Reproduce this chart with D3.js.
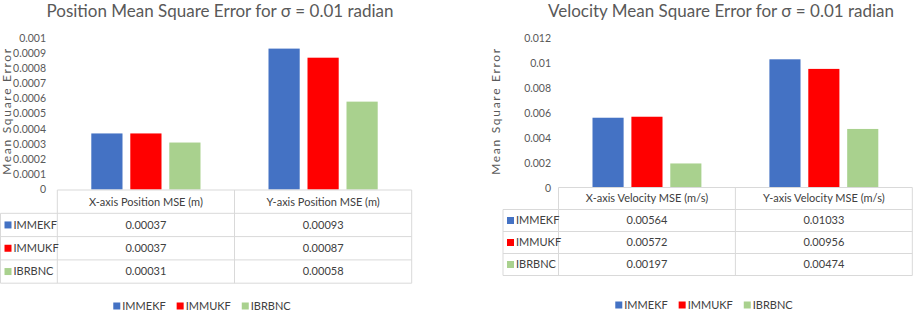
<html>
<head>
    <script src="https://d3js.org/d3.v7.min.js" charset="utf-8"></script>
    <style>
        body { margin: 0; background: #fff; }
        text { font-family: Lato, "Open Sans", sans-serif; }
    </style>
</head>
<body>
    <script type="text/javascript">
        var width = 913;
        var height = 314;

        // series shared by both charts
        const series = ["IMMEKF", "IMMUKF", "IBRBNC"];
        const seriesColors = ["#4472C4", "#FF0000", "#A9D18E"];

        // position chart
        const posCategories = ["X-axis Position MSE (m)", "Y-axis Position MSE (m)"];
        const posIMMEKF = [0.00037, 0.00093];
        const posIMMUKF = [0.00037, 0.00087];
        const posIBRBNC = [0.00031, 0.00058];
        const posTicks = [0, 0.0001, 0.0002, 0.0003, 0.0004, 0.0005, 0.0006, 0.0007, 0.0008, 0.0009, 0.001];

        // velocity chart
        const velCategories = ["X-axis Velocity MSE (m/s)", "Y-axis Velocity MSE (m/s)"];
        const velIMMEKF = [0.00564, 0.01033];
        const velIMMUKF = [0.00572, 0.00956];
        const velIBRBNC = [0.00197, 0.00474];
        const velTicks = [0, 0.002, 0.004, 0.006, 0.008, 0.01, 0.012];

        const svg = d3.select("body").append("svg")
            .attr("width", width)
            .attr("height", height);

        const gridColor = "#d9d9d9";
        const textColor = "#595959";
        const tableText = "#404040";

        function drawChart(o) {
            const g = svg.append("g");
            const values = [o.a, o.b, o.c];

            const x0 = d3.scaleBand()
                .domain(o.categories)
                .range([o.plotLeft, o.plotRight]);

            const x1 = d3.scaleBand()
                .domain(series)
                .range([34, x0.bandwidth() - 34])
                .paddingInner(0.2);

            const y = d3.scaleLinear()
                .domain([0, o.max])
                .range([o.baseY, o.topY]);

            // title
            g.append("text")
                .attr("x", o.titleX)
                .attr("y", 17)
                .attr("text-anchor", "middle")
                .style("font-size", "17px")
                .style("fill", textColor)
                .text(o.title);

            // y tick labels (no axis line in the original)
            g.append("g")
                .selectAll("text")
                .data(o.ticks)
                .join("text")
                    .attr("x", o.tickX)
                    .attr("y", d => y(d))
                    .attr("dy", "0.35em")
                    .attr("text-anchor", "end")
                    .style("font-size", "10.5px")
                    .style("fill", textColor)
                    .text(d => d3.format("~g")(d));

            // y axis title
            g.append("text")
                .attr("transform", `translate(${o.labelX},111) rotate(-90)`)
                .attr("text-anchor", "middle")
                .style("font-size", "12px")
                .style("letter-spacing", "1.7px")
                .style("fill", textColor)
                .text("Mean Square Error");

            // bars
            g.append("g")
                .selectAll("g")
                .data(o.categories)
                .join("g")
                    .attr("transform", d => `translate(${x0(d)},0)`)
                .selectAll("rect")
                .data((d, i) => series.map((s, k) => ({ s: s, k: k, v: values[k][i] })))
                .join("rect")
                    .attr("x", d => x1(d.s))
                    .attr("y", d => y(d.v))
                    .attr("width", x1.bandwidth())
                    .attr("height", d => y(0) - y(d.v))
                    .style("fill", d => seriesColors[d.k]);

            // data table
            const top = o.tableTop;
            const rh = o.rowH;
            const bottom = top + rh * 4;
            const lines = g.append("g")
                .style("stroke", gridColor)
                .style("stroke-width", 1);

            lines.append("line")
                .attr("x1", o.plotLeft).attr("x2", o.plotRight)
                .attr("y1", top).attr("y2", top);
            for (let k = 1; k <= 4; k++) {
                lines.append("line")
                    .attr("x1", o.tableLeft).attr("x2", o.plotRight)
                    .attr("y1", top + rh * k).attr("y2", top + rh * k);
            }
            lines.append("line")
                .attr("x1", o.tableLeft).attr("x2", o.tableLeft)
                .attr("y1", top + rh).attr("y2", bottom);
            [o.plotLeft, x0(o.categories[1]), o.plotRight].forEach(xv => {
                lines.append("line")
                    .attr("x1", xv).attr("x2", xv)
                    .attr("y1", top).attr("y2", bottom);
            });

            // header cells
            g.append("g")
                .selectAll("text")
                .data(o.categories)
                .join("text")
                    .attr("x", d => x0(d) + x0.bandwidth() / 2)
                    .attr("y", top + rh / 2)
                    .attr("dy", "0.35em")
                    .attr("text-anchor", "middle")
                    .style("font-size", "11px")
                    .style("fill", tableText)
                    .text(d => d);

            // series rows
            series.forEach((s, k) => {
                const cy = top + rh * (k + 1) + rh / 2;
                g.append("rect")
                    .attr("x", o.tableLeft + 4)
                    .attr("y", cy - 3.5)
                    .attr("width", 7)
                    .attr("height", 7)
                    .style("fill", seriesColors[k]);
                g.append("text")
                    .attr("x", o.tableLeft + 13)
                    .attr("y", cy)
                    .attr("dy", "0.35em")
                    .style("font-size", "11px")
                    .style("fill", tableText)
                    .text(s);
                g.append("g")
                    .selectAll("text")
                    .data(o.categories)
                    .join("text")
                        .attr("x", d => x0(d) + x0.bandwidth() / 2)
                        .attr("y", cy)
                        .attr("dy", "0.35em")
                        .attr("text-anchor", "middle")
                        .style("font-size", "11px")
                        .style("fill", tableText)
                        .text((d, i) => d3.format(".5f")(values[k][i]));
            });

            // legend
            const leg = g.append("g");
            let lx = 0;
            series.forEach((s, k) => {
                leg.append("rect")
                    .attr("x", lx)
                    .attr("y", o.legendY - 3.5)
                    .attr("width", 7)
                    .attr("height", 7)
                    .style("fill", seriesColors[k]);
                const t = leg.append("text")
                    .attr("x", lx + 9)
                    .attr("y", o.legendY)
                    .attr("dy", "0.35em")
                    .style("font-size", "11px")
                    .style("fill", tableText)
                    .text(s);
                lx += 9 + t.node().getComputedTextLength() + 11;
            });
            const legW = lx - 11;
            leg.attr("transform", `translate(${o.legendCenter - legW / 2},0)`);
        }

        drawChart({
            title: "Position Mean Square Error for σ = 0.01 radian",
            titleX: 220,
            categories: posCategories,
            a: posIMMEKF, b: posIMMUKF, c: posIBRBNC,
            ticks: posTicks,
            max: 0.001,
            plotLeft: 57.3, plotRight: 411.7,
            baseY: 189.5, topY: 38,
            tickX: 46,
            labelX: 10.5,
            tableLeft: 0.5,
            tableTop: 190,
            rowH: 23.3,
            legendY: 306,
            legendCenter: 202
        });

        drawChart({
            title: "Velocity Mean Square Error for σ = 0.01 radian",
            titleX: 721,
            categories: velCategories,
            a: velIMMEKF, b: velIMMUKF, c: velIBRBNC,
            ticks: velTicks,
            max: 0.012,
            plotLeft: 558.5, plotRight: 912.3,
            baseY: 188, topY: 38.5,
            tickX: 551,
            labelX: 500,
            tableLeft: 503,
            tableTop: 187.5,
            rowH: 22,
            legendY: 305,
            legendCenter: 704
        });
    </script>
</body>
</html>
